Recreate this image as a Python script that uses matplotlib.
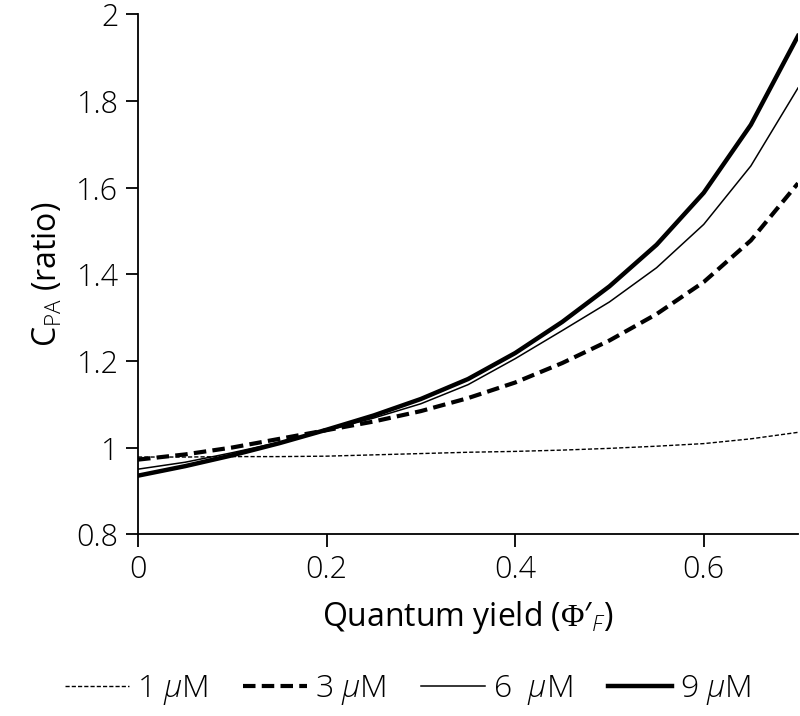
import matplotlib
matplotlib.use("Agg")
import matplotlib.pyplot as plt

plt.rcParams['font.family'] = ['Open Sans', 'DejaVu Sans']
plt.rcParams['font.weight'] = 'light'
plt.rcParams['mathtext.fontset'] = 'custom'
plt.rcParams['mathtext.rm'] = 'Liberation Serif'
plt.rcParams['mathtext.it'] = 'Open Sans:light:italic'
plt.rcParams['mathtext.sf'] = 'Open Sans:light'

x = [0.0, 0.05, 0.1, 0.15, 0.2, 0.25, 0.3, 0.35, 0.4, 0.45, 0.5, 0.55, 0.6, 0.65, 0.7]
c1 = [0.978, 0.978, 0.979, 0.979, 0.980, 0.983, 0.986, 0.989, 0.991, 0.994, 0.998, 1.003, 1.009, 1.020, 1.035]
c3 = [0.972, 0.984, 1.000, 1.020, 1.040, 1.060, 1.084, 1.114, 1.150, 1.195, 1.247, 1.308, 1.382, 1.478, 1.610]
c6 = [0.950, 0.966, 0.988, 1.012, 1.039, 1.068, 1.101, 1.145, 1.205, 1.270, 1.336, 1.415, 1.515, 1.650, 1.830]
c9 = [0.935, 0.957, 0.982, 1.010, 1.041, 1.074, 1.112, 1.158, 1.218, 1.290, 1.372, 1.468, 1.588, 1.745, 1.950]
labels = ["1 $\\mu$M", "3 $\\mu$M", "6  $\\mu$M", "9 $\\mu$M"]
xticks = [0, 0.2, 0.4, 0.6]
xticklabels = ["0", "0.2", "0.4", "0.6"]
yticks = [0.8, 1.0, 1.2, 1.4, 1.6, 1.8, 2.0]
yticklabels = ["0.8", "1", "1.2", "1.4", "1.6", "1.8", "2"]

fig = plt.figure(figsize=(8, 7.16), dpi=100)
ax = fig.add_axes([0.1725, 0.254, 0.825, 0.726])

ax.plot(x, c1, color='black', lw=1.0, ls=(0, (3, 1.5)), label=labels[0])
ax.plot(x, c3, color='black', lw=3.0, ls=(0, (3, 1.5)), label=labels[1])
ax.plot(x, c6, color='black', lw=1.1, ls='-', label=labels[2])
ax.plot(x, c9, color='black', lw=3.2, ls='-', label=labels[3])

ax.set_xlim(0, 0.7)
ax.set_ylim(0.8, 2.0)
ax.set_xticks(xticks)
ax.set_xticklabels(xticklabels)
ax.set_yticks(yticks)
ax.set_yticklabels(yticklabels)
ax.spines['top'].set_visible(False)
ax.spines['right'].set_visible(False)
for s in ['left', 'bottom']:
    ax.spines[s].set_linewidth(1.3)
ax.tick_params(axis='both', direction='out', length=9, width=1.3, labelsize=22, pad=5)

ax.set_xlabel("Quantum yield ($\\Phi$′$_{\\mathit{F}}$)", fontsize=23, labelpad=10)
ax.set_ylabel("C$_{\\mathsf{PA}}$ (ratio)", fontsize=23, labelpad=8)

fig.legend(loc='center', bbox_to_anchor=(0.51, 0.036), ncol=4, frameon=False,
           fontsize=23, handlelength=2.0, handletextpad=0.25, columnspacing=1.1)

fig.savefig("out.png", dpi=100)
